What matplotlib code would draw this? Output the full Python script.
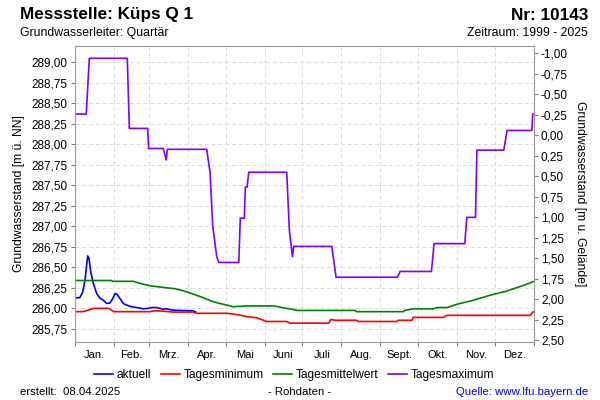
import matplotlib
matplotlib.use("Agg")
from matplotlib import pyplot as plt
from matplotlib.ticker import FixedLocator, FuncFormatter, NullFormatter

plt.rcParams["font.family"] = ["Liberation Sans", "DejaVu Sans"]

# day of year (0..365) and level [m ü. NN]
max_days = [0, 9.2, 11.6, 41.8, 43.4, 58, 58.8, 70.4, 72.8, 73.6, 104.9, 107.6, 109.7, 112.9, 114.5,
            130.4, 131.6, 134.8, 135.6, 137, 138.3, 168.5, 170.6, 173, 174.1, 204.3, 207.7, 256.5,
            258.6, 283.5, 285.6, 310, 311.6, 318.5, 319.6, 341, 343.6, 363.3, 364, 365]
max_vals = [288.37, 288.37, 289.05, 289.05, 288.195, 288.195, 287.95, 287.95, 287.81, 287.94, 287.94,
            287.65, 287.0, 286.63, 286.56, 286.56, 287.10, 287.10, 287.48, 287.48, 287.66, 287.66,
            286.955, 286.63, 286.756, 286.756, 286.38, 286.38, 286.45, 286.45, 286.79, 286.79,
            287.11, 287.11, 287.93, 287.93, 288.17, 288.17, 288.37, 288.37]

mean_days = [0, 29.4, 30, 46.6, 52, 58.5, 67.8, 79.7, 86.3, 93, 102.2, 110.2, 120.8, 126, 136.7, 158,
             168.5, 174, 176.5, 222.8, 224, 261, 262.5, 269, 285, 288, 296, 303.6, 317, 330,
             343, 356.6, 365]
mean_vals = [286.34, 286.34, 286.33, 286.33, 286.305, 286.28, 286.26, 286.24, 286.215, 286.18, 286.13,
             286.08, 286.04, 286.02, 286.03, 286.03, 286.00, 285.985, 285.975, 285.975,
             285.96, 285.96, 285.975, 285.995, 285.995, 286.01, 286.01, 286.05, 286.10, 286.16,
             286.21, 286.28, 286.33]

min_days = [0, 5, 8, 12, 15, 27, 31, 60, 62.5, 67.8, 78, 94, 97, 121, 128.8, 136.7, 144.7, 152.6,
            168.5, 171, 202, 203.5, 207, 224, 225.4, 256, 257, 268, 269, 293, 295.7, 362, 362.8,
            364.5, 365]
min_vals = [285.96, 285.96, 285.965, 285.985, 286.00, 286.00, 285.96, 285.96, 285.97, 285.97,
            285.955, 285.955, 285.94, 285.94, 285.925, 285.90, 285.885, 285.84, 285.84, 285.82,
            285.82, 285.865, 285.855, 285.855, 285.84, 285.84, 285.855, 285.855, 285.89, 285.89,
            285.915, 285.915, 285.93, 285.96, 285.96]

cur_days = [0, 4, 6.4, 8.2, 9.5, 10.3, 11.4, 12.7, 14.8, 17.5, 20, 22.7, 25.4, 28, 30.2, 32, 33.4,
            36, 38.6, 41.3, 45.3, 49.3, 54.5, 58.5, 61.2, 65, 67.8, 70.4, 73, 77, 83.7, 89, 94.3, 96.2]
cur_vals = [286.13, 286.13, 286.20, 286.345, 286.53, 286.64, 286.61, 286.45, 286.305, 286.18,
            286.125, 286.10, 286.06, 286.065, 286.12, 286.18, 286.175, 286.12, 286.06, 286.04,
            286.02, 286.01, 285.995, 286.0, 286.01, 286.01, 286.00, 285.99, 285.995, 285.98,
            285.975, 285.972, 285.97, 285.955]

ground = 288.11
months = ["Jan.", "Feb.", "Mrz.", "Apr.", "Mai", "Juni", "Juli", "Aug.", "Sept.", "Okt.", "Nov.", "Dez."]
month_starts = [0, 31, 59, 90, 120, 151, 181, 212, 243, 273, 304, 334, 365]

de = FuncFormatter(lambda v, p: f"{v:.2f}".replace(".", ","))

fig = plt.figure(figsize=(6, 4), dpi=100)
ax = fig.add_axes([0.1245, 0.145, 0.7655, 0.74])
ax.plot(cur_days, cur_vals, color="#0000ff", lw=1.2, label="aktuell")
ax.plot(min_days, min_vals, color="#ff0000", lw=1.2, label="Tagesminimum")
ax.plot(mean_days, mean_vals, color="#008000", lw=1.2, label="Tagesmittelwert")
ax.plot(max_days, max_vals, color="#8000ff", lw=1.2, label="Tagesmaximum")

ax.set_xlim(0, 365)
ax.set_ylim(285.59, 289.2)
ax.yaxis.set_major_locator(FixedLocator([285.75 + 0.25 * i for i in range(14)]))
ax.yaxis.set_major_formatter(de)
ax.xaxis.set_major_locator(FixedLocator(month_starts))
ax.xaxis.set_major_formatter(NullFormatter())
mids = [(month_starts[i] + month_starts[i + 1]) / 2 for i in range(12)]
ax.xaxis.set_minor_locator(FixedLocator(mids))
ax.xaxis.set_minor_formatter(FuncFormatter(lambda v, p: months[p] if p < 12 else ""))
ax.tick_params(axis="x", which="minor", length=0, labelsize=8, pad=6)
ax.tick_params(axis="x", which="major", length=3, color="#808080")
ax.tick_params(axis="y", length=3, labelsize=8.5, color="#808080", pad=2)
ax.grid(True, which="major", color="#dcdcdc", ls=(0, (4, 3)), lw=0.7)
for s in ax.spines.values():
    s.set_color("#a0a0a0")
ax.set_ylabel("Grundwasserstand [m ü. NN]", fontsize=8.7, labelpad=5)

ax2 = ax.twinx()
ax2.set_ylim(ground - 285.59, ground - 289.2)
ax2.yaxis.set_major_locator(FixedLocator([-1.0 + 0.25 * i for i in range(15)]))
ax2.yaxis.set_major_formatter(de)
ax2.tick_params(axis="y", length=3, labelsize=8.5, color="#808080", pad=2)
for s in ax2.spines.values():
    s.set_color("#a0a0a0")
ax2.set_ylabel("Grundwasserstand [m u. Gelände]", fontsize=8.7, rotation=270, labelpad=13)

fig.text(0.033, 0.9625, "Messstelle: Küps Q 1", fontsize=12.3, fontweight="bold", va="center")
fig.text(0.98, 0.9625, "Nr: 10143", fontsize=12.3, fontweight="bold", va="center", ha="right")
fig.text(0.033, 0.917, "Grundwasserleiter: Quartär", fontsize=8.8, va="center")
fig.text(0.98, 0.917, "Zeitraum: 1999 - 2025", fontsize=8.8, va="center", ha="right")

fig.legend(loc="center", bbox_to_anchor=(0.49, 0.063), ncol=4, frameon=False, fontsize=8.6,
           handlelength=1.6, handletextpad=0.3, columnspacing=0.8)

fig.text(0.033, 0.02, "erstellt:  08.04.2025", fontsize=8.2, va="center")
fig.text(0.5, 0.02, "- Rohdaten -", fontsize=8.2, va="center", ha="center")
fig.text(0.98, 0.02, "Quelle: www.lfu.bayern.de", fontsize=8.2, va="center", ha="right", color="#0000ff")

fig.savefig("out.png", dpi=100)
